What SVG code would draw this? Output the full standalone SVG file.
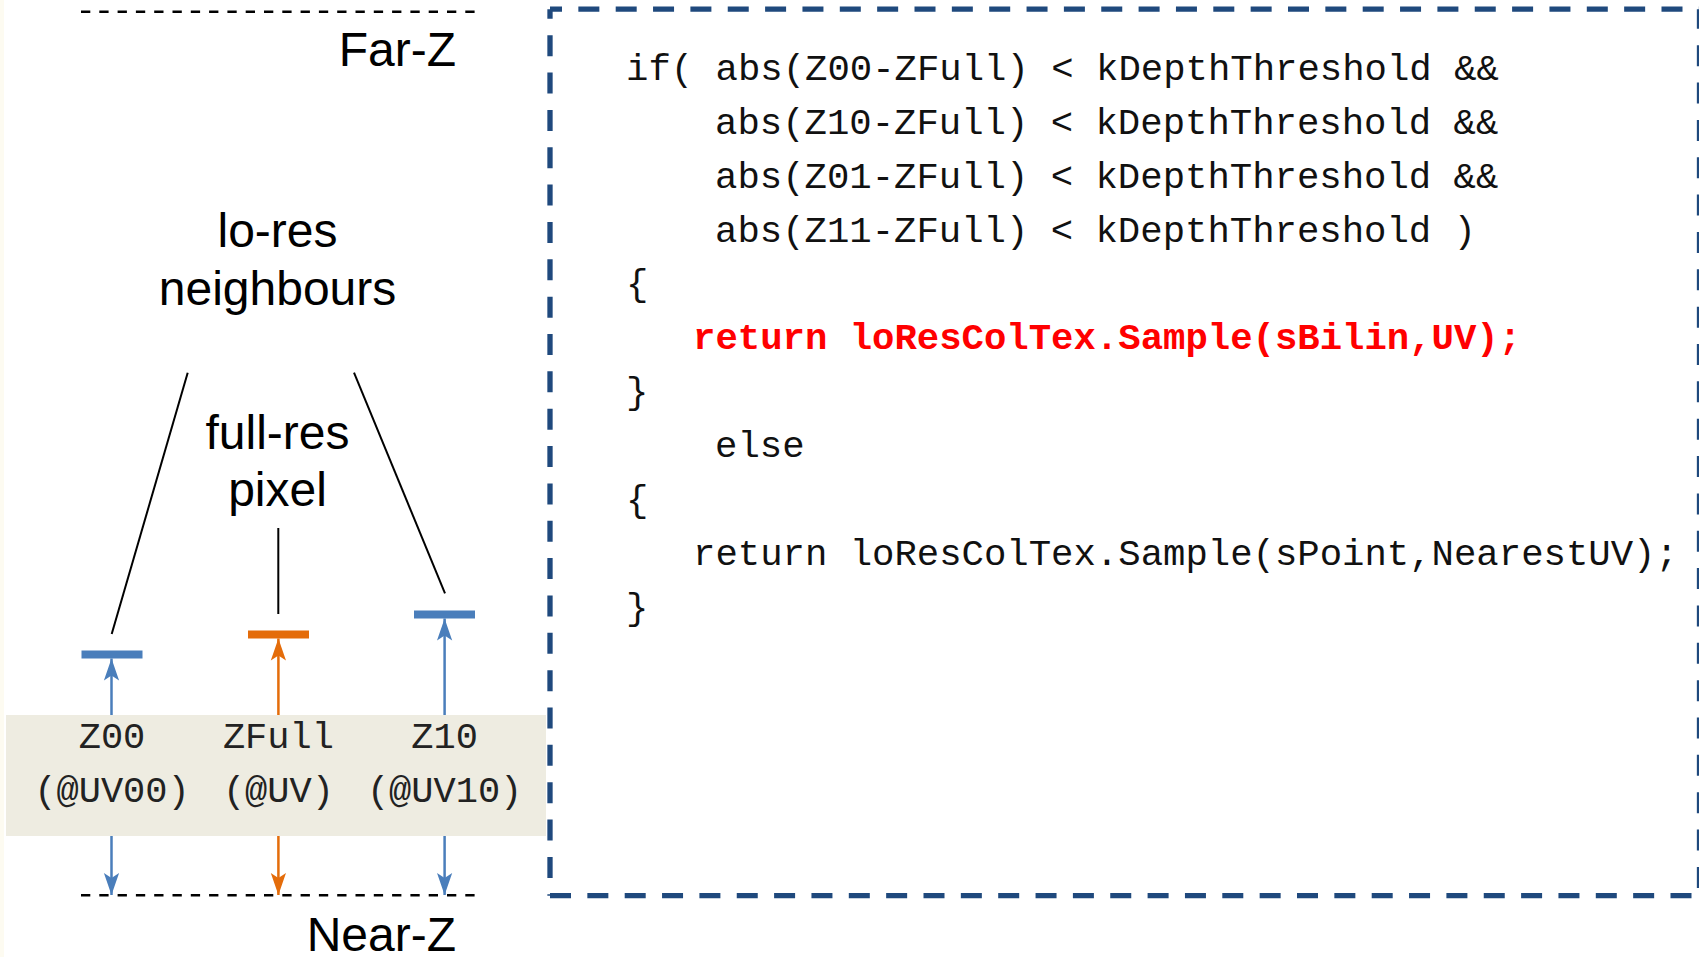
<svg xmlns="http://www.w3.org/2000/svg" width="1699" height="957" viewBox="0 0 1699 957">
  <style>
    .label { font-family: "Liberation Sans", Arial, sans-serif; font-size: 48px; fill: #000; }
    .mono { font-family: "Liberation Mono", "Courier New", monospace; font-size: 37px; fill: #222; }
    .code { font-family: "Liberation Mono", "Courier New", monospace; font-size: 37.3px; fill: #111; }
    .hot { fill: #FF0000; font-weight: bold; }
    .depth { stroke: #000; stroke-width: 2.5; stroke-dasharray: 9.3 9; fill: none; }
    .lead { stroke: #000; stroke-width: 2; fill: none; }
    .blue { stroke: #4A7EBB; stroke-width: 2.5; fill: none; }
    .orange { stroke: #E46C0A; stroke-width: 2.5; fill: none; }
    .frame { stroke: #1F497D; stroke-width: 5.3; stroke-dasharray: 21 16.35; fill: none; }
  </style>
  <defs>
    <marker id="headBlue" markerUnits="userSpaceOnUse" markerWidth="30" markerHeight="20" viewBox="-24 -10 26 20" refX="0" refY="0" orient="auto">
      <path d="M0,0 L-22,-7.6 L-17,0 L-22,7.6 Z" fill="#4A7EBB"/>
    </marker>
    <marker id="headOrange" markerUnits="userSpaceOnUse" markerWidth="30" markerHeight="20" viewBox="-24 -10 26 20" refX="0" refY="0" orient="auto">
      <path d="M0,0 L-22,-7.6 L-17,0 L-22,7.6 Z" fill="#E46C0A"/>
    </marker>
  </defs>

  <rect x="0" y="0" width="1699" height="957" fill="#FFFFFF"/>
  <rect x="0" y="0" width="4" height="957" fill="#FDFBF1"/>

  <!-- depth range limits -->
  <g id="far-z">
    <line class="depth" x1="81" y1="11.7" x2="475" y2="11.7"/>
    <text class="label" x="456" y="66" text-anchor="end">Far-Z</text>
  </g>
  <g id="near-z">
    <line class="depth" x1="81" y1="895.3" x2="475" y2="895.3"/>
    <text class="label" x="456" y="951" text-anchor="end">Near-Z</text>
  </g>

  <!-- captions -->
  <g id="lores-caption">
    <text class="label" x="277.5" y="246.7" text-anchor="middle">lo-res</text>
    <text class="label" x="277.5" y="305" text-anchor="middle">neighbours</text>
  </g>
  <g id="fullres-caption">
    <text class="label" x="277.5" y="449.3" text-anchor="middle">full-res</text>
    <text class="label" x="277.5" y="506" text-anchor="middle">pixel</text>
  </g>

  <!-- sample panel -->
  <g id="sample-panel">
    <rect x="6" y="715" width="540" height="121" fill="#EEECE1"/>
  </g>
  <g id="z00">
    <rect x="81.5" y="650.5" width="61" height="8" fill="#4A7EBB"/>
    <text class="mono" x="112" y="748.3" text-anchor="middle">Z00</text>
    <text class="mono" x="112" y="801.7" text-anchor="middle">(@UV00)</text>
  </g>
  <g id="zfull">
    <rect x="248" y="630.5" width="61" height="8" fill="#E46C0A"/>
    <text class="mono" x="278.4" y="748.3" text-anchor="middle">ZFull</text>
    <text class="mono" x="278.4" y="801.7" text-anchor="middle">(@UV)</text>
  </g>
  <g id="z10">
    <rect x="414" y="610.5" width="61" height="8" fill="#4A7EBB"/>
    <text class="mono" x="444.6" y="748.3" text-anchor="middle">Z10</text>
    <text class="mono" x="444.6" y="801.7" text-anchor="middle">(@UV10)</text>
  </g>

  <!-- depth comparison code -->
  <g id="code-block">
    <line class="frame" x1="550" y1="9.2" x2="1699.5" y2="9.2" stroke-dashoffset="9"/>
    <line class="frame" x1="550" y1="9.2" x2="550" y2="895.7" stroke-dashoffset="11.35"/>
    <line class="frame" x1="550" y1="895.7" x2="1699.5" y2="895.7"/>
    <line class="frame" x1="1699.5" y1="9.2" x2="1699.5" y2="895.7" stroke-dashoffset="1.35"/>
    <text class="code" x="626" y="80">if( abs(Z00-ZFull) &lt; kDepthThreshold &amp;&amp;</text>
    <text class="code" x="715" y="133.9">abs(Z10-ZFull) &lt; kDepthThreshold &amp;&amp;</text>
    <text class="code" x="715" y="187.7">abs(Z01-ZFull) &lt; kDepthThreshold &amp;&amp;</text>
    <text class="code" x="715" y="241.6">abs(Z11-ZFull) &lt; kDepthThreshold )</text>
    <text class="code" x="626" y="295.4">{</text>
    <text class="code hot" x="693" y="349.3">return loResColTex.Sample(sBilin,UV);</text>
    <text class="code" x="626" y="403.1">}</text>
    <text class="code" x="715" y="457">else</text>
    <text class="code" x="626" y="510.8">{</text>
    <text class="code" x="693" y="564.7">return loResColTex.Sample(sPoint,NearestUV);</text>
    <text class="code" x="626" y="618.5">}</text>
  </g>

  <!-- connectors -->
  <g id="connectors">
    <line class="lead" x1="187.7" y1="372.7" x2="111.7" y2="634"/>
    <line class="lead" x1="354" y1="372.7" x2="445" y2="593.3"/>
    <line class="lead" x1="278.3" y1="528" x2="278.3" y2="614"/>

    <line class="blue" x1="111.5" y1="715" x2="111.5" y2="658.5" marker-end="url(#headBlue)"/>
    <line class="orange" x1="278.4" y1="715" x2="278.4" y2="638.5" marker-end="url(#headOrange)"/>
    <line class="blue" x1="444.6" y1="715" x2="444.6" y2="618.5" marker-end="url(#headBlue)"/>

    <line class="blue" x1="111.5" y1="836" x2="111.5" y2="895" marker-end="url(#headBlue)"/>
    <line class="orange" x1="278.4" y1="836" x2="278.4" y2="895" marker-end="url(#headOrange)"/>
    <line class="blue" x1="444.6" y1="836" x2="444.6" y2="895" marker-end="url(#headBlue)"/>
  </g>
</svg>
